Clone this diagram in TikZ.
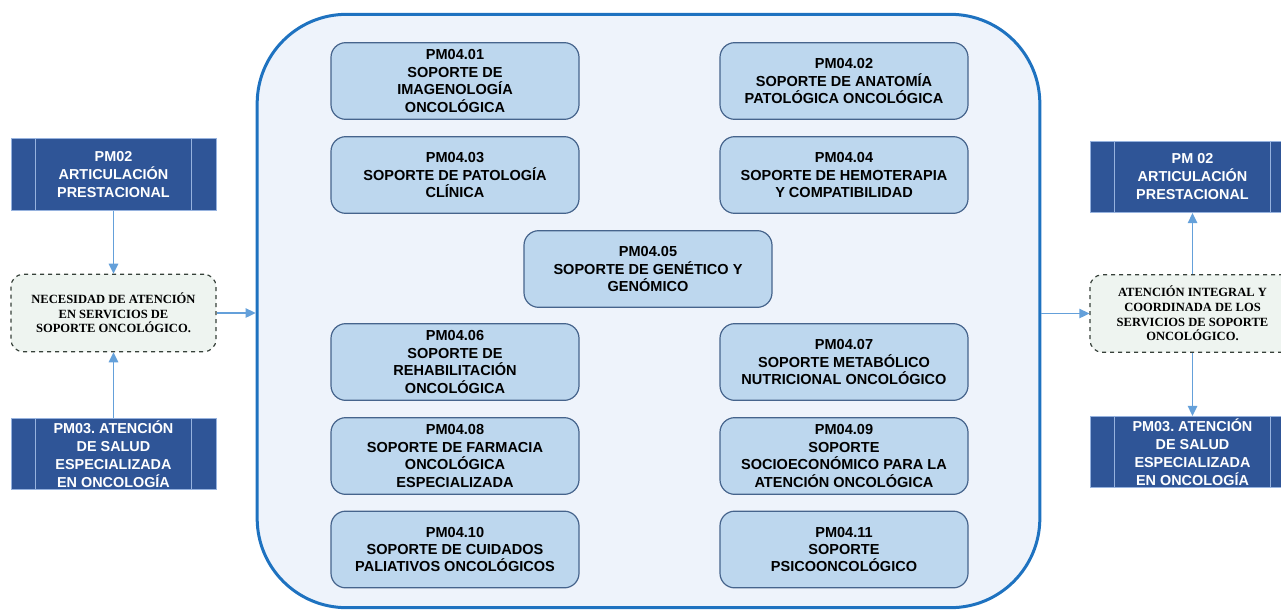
\documentclass[tikz,border=0pt]{standalone}
\usepackage{fontspec}
\setmainfont{Liberation Sans}
\newfontfamily\serifbold{Liberation Serif}
\usepackage{xcolor}
\usetikzlibrary{arrows.meta}
\frenchspacing

\definecolor{bordecont}{RGB}{30,114,192}
\definecolor{fondocont}{RGB}{238,243,251}
\definecolor{fondosop}{RGB}{189,215,238}
\definecolor{bordesop}{RGB}{70,100,140}
\definecolor{fondomacro}{RGB}{47,85,151}
\definecolor{lineamacro}{RGB}{150,178,222}
\definecolor{fondoent}{RGB}{238,244,240}
\definecolor{bordeent}{RGB}{55,65,58}
\definecolor{flechaazul}{RGB}{100,160,218}

\tikzset{
  contenedor/.style={draw=bordecont, line width=2.25pt, fill=fondocont, rounded corners=67pt,
    minimum width=587pt, minimum height=445pt, inner sep=0pt},
  soporte/.style={draw=bordesop, line width=0.9pt, fill=fondosop, rounded corners=11pt,
    minimum width=186pt, minimum height=57.5pt, inner sep=0pt, align=center,
    font=\fontsize{10.9}{13.1}\selectfont\bfseries},
  macro/.style={draw=lineamacro, line width=0.6pt, fill=fondomacro, text=white,
    minimum width=153.75pt, minimum height=53.5pt, inner sep=0pt, align=center,
    font=\fontsize{10.8}{13.5}\selectfont\bfseries},
  entrada/.style={draw=bordeent, dashed, line width=0.9pt, fill=fondoent, rounded corners=9pt,
    minimum width=153.75pt, minimum height=58pt, inner sep=0pt, align=center,
    font=\serifbold\fontsize{9.4}{10.9}\selectfont\bfseries},
  flecha/.style={draw=flechaazul, line width=1.2pt, -{Triangle[length=7.5pt,width=7pt]}}
}

\begin{document}
\begin{tikzpicture}[x=0.75pt,y=0.75pt,yscale=-1,xscale=1]
\clip (0,0) rectangle (1281,611);

% contenedor central
\node[contenedor] (cont) at (648.5,311) {};

% procesos de soporte
\node[soporte] (p01) at (455,81) {PM04.01\\SOPORTE DE\\IMAGENOLOGÍA\\ONCOLÓGICA};
\node[soporte] (p02) at (844,81) {PM04.02\\SOPORTE DE ANATOMÍA\\PATOLÓGICA ONCOLÓGICA};
\node[soporte] (p03) at (455,175) {PM04.03\\SOPORTE DE PATOLOGÍA\\CLÍNICA};
\node[soporte] (p04) at (844,175) {PM04.04\\SOPORTE DE HEMOTERAPIA\\Y COMPATIBILIDAD};
\node[soporte] (p05) at (648,269) {PM04.05\\SOPORTE DE GENÉTICO Y\\GENÓMICO};
\node[soporte] (p06) at (455,362) {PM04.06\\SOPORTE DE\\REHABILITACIÓN\\ONCOLÓGICA};
\node[soporte] (p07) at (844,362) {PM04.07\\SOPORTE METABÓLICO\\NUTRICIONAL ONCOLÓGICO};
\node[soporte] (p08) at (455,456) {PM04.08\\SOPORTE DE FARMACIA\\ONCOLÓGICA\\ESPECIALIZADA};
\node[soporte] (p09) at (844,456) {PM04.09\\SOPORTE\\SOCIOECONÓMICO PARA LA\\ATENCIÓN ONCOLÓGICA};
\node[soporte] (p10) at (455,549.5) {PM04.10\\SOPORTE DE CUIDADOS\\PALIATIVOS ONCOLÓGICOS};
\node[soporte] (p11) at (844,549.5) {PM04.11\\SOPORTE\\PSICOONCOLÓGICO};

% lado izquierdo
\node[macro] (pm02L) at (113.5,174.5) {PM02\\ARTICULACIÓN\\PRESTACIONAL};
\node[entrada] (necL) at (113.5,313) {NECESIDAD DE ATENCIÓN\\EN SERVICIOS DE\\SOPORTE ONCOLÓGICO.};
\node[macro] (pm03L) at (113.5,454) {PM03. ATENCIÓN\\DE SALUD\\ESPECIALIZADA\\EN ONCOLOGÍA};

% lado derecho
\node[macro] (pm02R) at (1192.5,177) {PM 02\\ARTICULACIÓN\\PRESTACIONAL};
\node[entrada] (ateR) at (1192.5,313.5) {ATENCIÓN INTEGRAL Y\\COORDINADA DE LOS\\SERVICIOS DE SOPORTE\\ONCOLÓGICO.};
\node[macro] (pm03R) at (1192.5,452) {PM03. ATENCIÓN\\DE SALUD\\ESPECIALIZADA\\EN ONCOLOGÍA};

% lineas de proceso predefinido
\foreach \n in {pm02L,pm03L,pm02R,pm03R}{
  \draw[lineamacro, line width=0.8pt] ([xshift=18.75pt]\n.north west) -- ([xshift=18.75pt]\n.south west);
  \draw[lineamacro, line width=0.8pt] ([xshift=-18.75pt]\n.north east) -- ([xshift=-18.75pt]\n.south east);
}

% flechas
\draw[flecha] (pm02L) -- (necL);
\draw[flecha] (pm03L) -- (necL);
\draw[flecha] (necL.east) -- (necL.east -| cont.west);
\draw[flecha] (ateR.west -| cont.east) -- (ateR.west);
\draw[flecha] (ateR) -- (pm02R);
\draw[flecha] (ateR) -- (pm03R);

\end{tikzpicture}
\end{document}
